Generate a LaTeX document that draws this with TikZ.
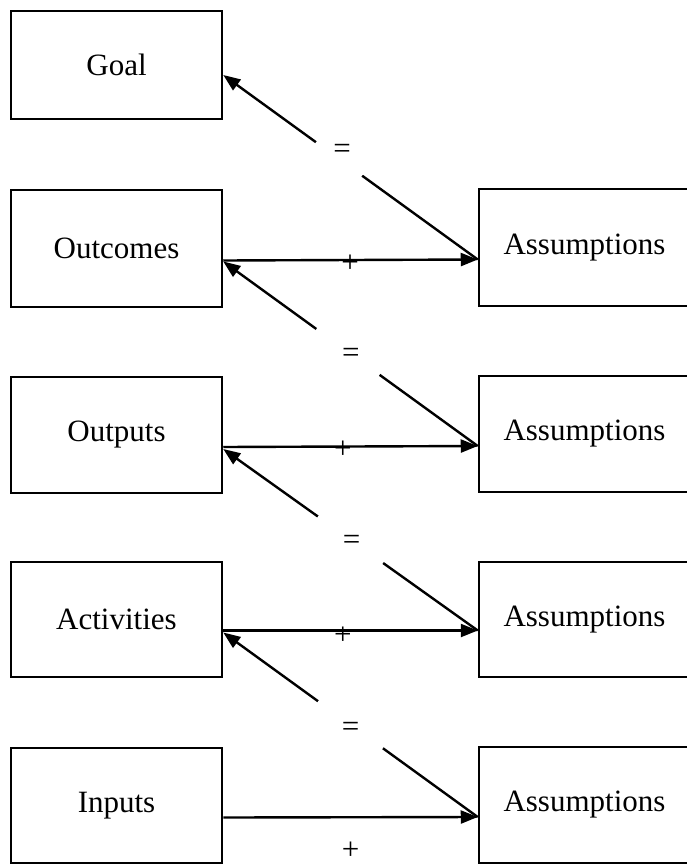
\documentclass[tikz,border=0pt]{standalone}
\usepackage{fontspec}
\setmainfont{Liberation Serif}
\usetikzlibrary{arrows.meta}
\begin{document}
\begin{tikzpicture}[x=1pt, y=-1pt,
  every node/.style={font=\fontsize{31}{37}\selectfont},
  stage/.style={draw, line width=2.5pt, minimum width=211pt, inner sep=0pt},
  link/.style={line width=2.4pt, -{Triangle[length=17pt,width=13pt]}},
  gap/.style={circle, fill=white, inner sep=0pt, minimum size=#1},
  sym/.style={inner sep=0pt}]
\useasboundingbox (0,0) rectangle (687,865);
\clip (0,0) rectangle (687,865);

% results chain (left column)
\node[stage, minimum height=108pt] (goal)   at (116.5,65)    {Goal};
\node[stage, minimum height=117pt] (outc)   at (116.5,248.5) {Outcomes};
\node[stage, minimum height=116pt] (outp)   at (116.5,435)   {Outputs};
\node[stage, minimum height=115pt] (act)    at (116.5,619.5) {Activities};
\node[stage, minimum height=115pt] (inp)    at (116.5,805.5) {Inputs};

% assumptions (right column)
\node[stage, minimum height=117pt] (asmA) at (584.5,247.5) {Assumptions};
\node[stage, minimum height=116pt] (asmB) at (584.5,434)   {Assumptions};
\node[stage, minimum height=115pt] (asmC) at (584.5,619.5) {Assumptions};
\node[stage, minimum height=116pt] (asmD) at (584.5,805)   {Assumptions};

% level + assumptions
\draw[link] ([yshift=-12pt]outc.east) --
  node[sym, pos=0.498, yshift=-4pt] {+} ([yshift=-12pt]asmA.west);
\draw[link] ([yshift=-12pt]outp.east) --
  node[sym, pos=0.47, yshift=-3pt] {+} ([yshift=-12pt]asmB.west);
\draw[link] ([yshift=-11pt]act.east) --
  node[sym, pos=0.47, yshift=-5pt] {+} ([yshift=-11pt]asmC.west);
\draw[link] ([yshift=-12pt]inp.east) --
  node[sym, pos=0.5, yshift=-33pt] {+} ([yshift=-12pt]asmD.west);

% = next level up
\draw[link] ([yshift=-12pt]asmA.west) --
  node[gap=57pt, pos=0.545] {}
  node[sym, pos=0.545, xshift=3pt, yshift=8pt] {=} ([yshift=-10pt]goal.east);
\draw[link] ([yshift=-12pt]asmB.west) --
  node[gap=78pt, pos=0.51] {}
  node[sym, pos=0.51, xshift=3pt, yshift=-4pt] {=} ([yshift=-13pt]outc.east);
\draw[link] ([yshift=-11pt]asmC.west) --
  node[gap=80pt, pos=0.5] {}
  node[sym, pos=0.5, xshift=1pt, yshift=-3pt] {=} ([yshift=-14pt]outp.east);
\draw[link] ([yshift=-12pt]asmD.west) --
  node[gap=80pt, pos=0.5] {}
  node[sym, pos=0.5, yshift=-5pt] {=} ([yshift=-13pt]act.east);
\end{tikzpicture}
\end{document}
